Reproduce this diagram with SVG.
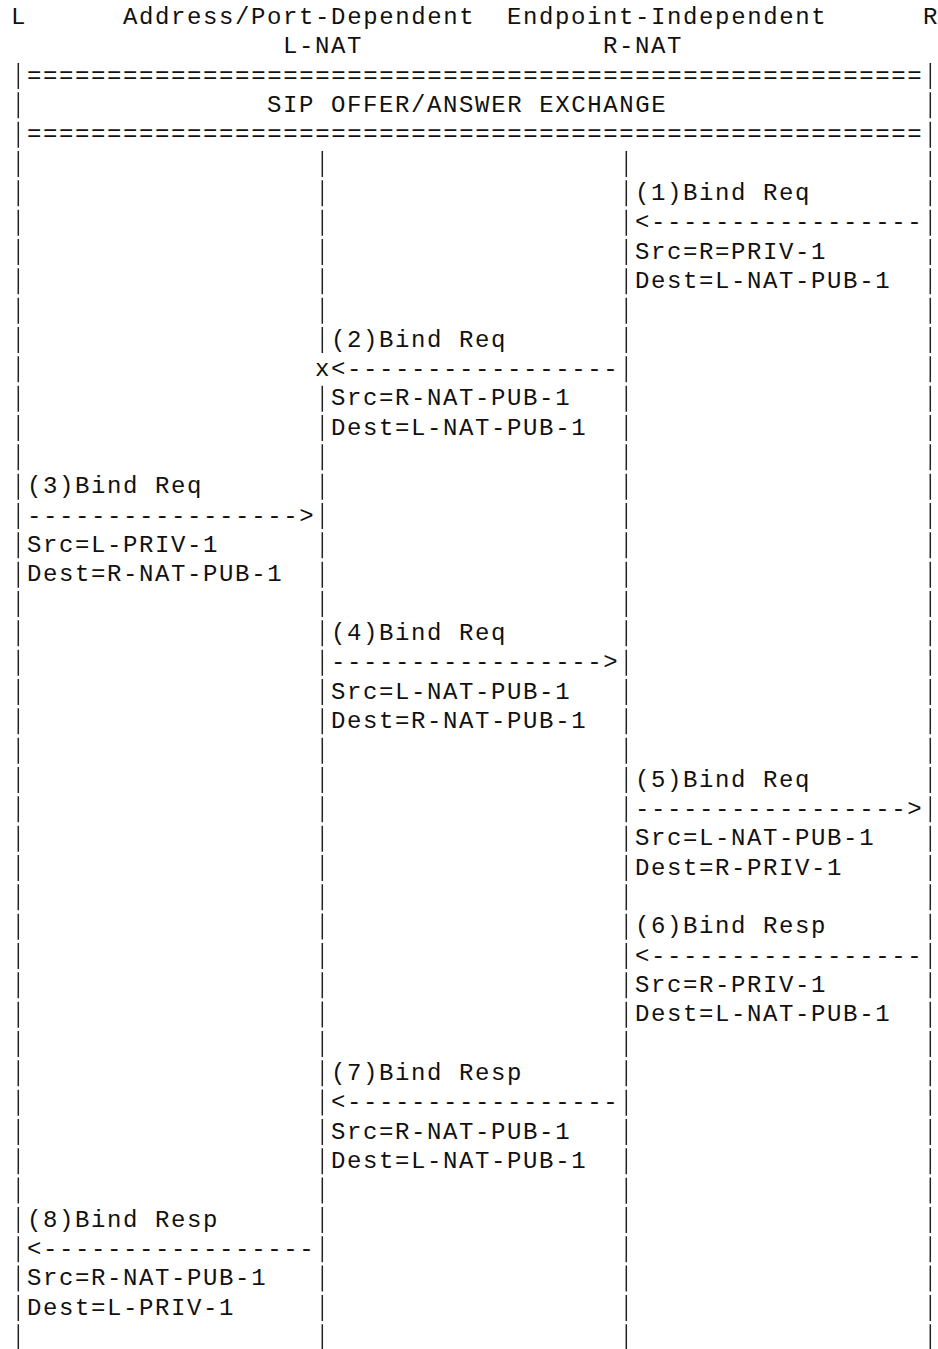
<svg xmlns="http://www.w3.org/2000/svg" width="938" height="1349" viewBox="0 0 938 1349">
<style>
.t{font-family:"Liberation Mono","DejaVu Sans Mono",monospace;font-size:24px;letter-spacing:1.6px;fill:#111;white-space:pre}
.ll{stroke:#222;stroke-width:1.5;stroke-dasharray:26 3.333;fill:none}
</style>
<rect x="0" y="0" width="938" height="1349" fill="#fff"/>
<g id="header">
<text class="t" x="27.1" y="82.67">========================================================</text>
<text class="t" x="267.1" y="112">SIP OFFER/ANSWER EXCHANGE</text>
<text class="t" x="27.1" y="141.33">========================================================</text>
</g>
<g id="node-L">
<text class="t" x="11.1" y="24">L</text>
<line class="ll" x1="18.3" y1="62.97" x2="18.3" y2="1349"/>
</g>
<g id="node-LNAT">
<text class="t" x="123.1" y="24">Address/Port-Dependent</text>
<text class="t" x="283.1" y="53.33">L-NAT</text>
<line class="ll" x1="322.3" y1="150.97" x2="322.3" y2="352.97"/>
<line class="ll" x1="322.3" y1="385.63" x2="322.3" y2="1349"/>
</g>
<g id="node-RNAT">
<text class="t" x="507.1" y="24">Endpoint-Independent</text>
<text class="t" x="603.1" y="53.33">R-NAT</text>
<line class="ll" x1="626.3" y1="150.97" x2="626.3" y2="1349"/>
</g>
<g id="node-R">
<text class="t" x="923.1" y="24">R</text>
<line class="ll" x1="930.3" y1="62.97" x2="930.3" y2="1349"/>
</g>
<g id="connectors">
<g id="msg1">
<text class="t" x="635.1" y="200">(1)Bind Req</text>
<text class="t" x="635.1" y="229.33">&lt;-----------------</text>
<text class="t" x="635.1" y="258.67">Src=R=PRIV-1</text>
<text class="t" x="635.1" y="288">Dest=L-NAT-PUB-1</text>
</g>
<g id="msg2">
<text class="t" x="331.1" y="346.67">(2)Bind Req</text>
<text class="t" x="315.1" y="376">x&lt;-----------------</text>
<text class="t" x="331.1" y="405.33">Src=R-NAT-PUB-1</text>
<text class="t" x="331.1" y="434.67">Dest=L-NAT-PUB-1</text>
</g>
<g id="msg3">
<text class="t" x="27.1" y="493.33">(3)Bind Req</text>
<text class="t" x="27.1" y="522.67">-----------------&gt;</text>
<text class="t" x="27.1" y="552">Src=L-PRIV-1</text>
<text class="t" x="27.1" y="581.33">Dest=R-NAT-PUB-1</text>
</g>
<g id="msg4">
<text class="t" x="331.1" y="640">(4)Bind Req</text>
<text class="t" x="331.1" y="669.33">-----------------&gt;</text>
<text class="t" x="331.1" y="698.67">Src=L-NAT-PUB-1</text>
<text class="t" x="331.1" y="728">Dest=R-NAT-PUB-1</text>
</g>
<g id="msg5">
<text class="t" x="635.1" y="786.67">(5)Bind Req</text>
<text class="t" x="635.1" y="816">-----------------&gt;</text>
<text class="t" x="635.1" y="845.33">Src=L-NAT-PUB-1</text>
<text class="t" x="635.1" y="874.67">Dest=R-PRIV-1</text>
</g>
<g id="msg6">
<text class="t" x="635.1" y="933.33">(6)Bind Resp</text>
<text class="t" x="635.1" y="962.67">&lt;-----------------</text>
<text class="t" x="635.1" y="992">Src=R-PRIV-1</text>
<text class="t" x="635.1" y="1021.33">Dest=L-NAT-PUB-1</text>
</g>
<g id="msg7">
<text class="t" x="331.1" y="1080">(7)Bind Resp</text>
<text class="t" x="331.1" y="1109.33">&lt;-----------------</text>
<text class="t" x="331.1" y="1138.67">Src=R-NAT-PUB-1</text>
<text class="t" x="331.1" y="1168">Dest=L-NAT-PUB-1</text>
</g>
<g id="msg8">
<text class="t" x="27.1" y="1226.67">(8)Bind Resp</text>
<text class="t" x="27.1" y="1256">&lt;-----------------</text>
<text class="t" x="27.1" y="1285.33">Src=R-NAT-PUB-1</text>
<text class="t" x="27.1" y="1314.67">Dest=L-PRIV-1</text>
</g>
</g>
</svg>
